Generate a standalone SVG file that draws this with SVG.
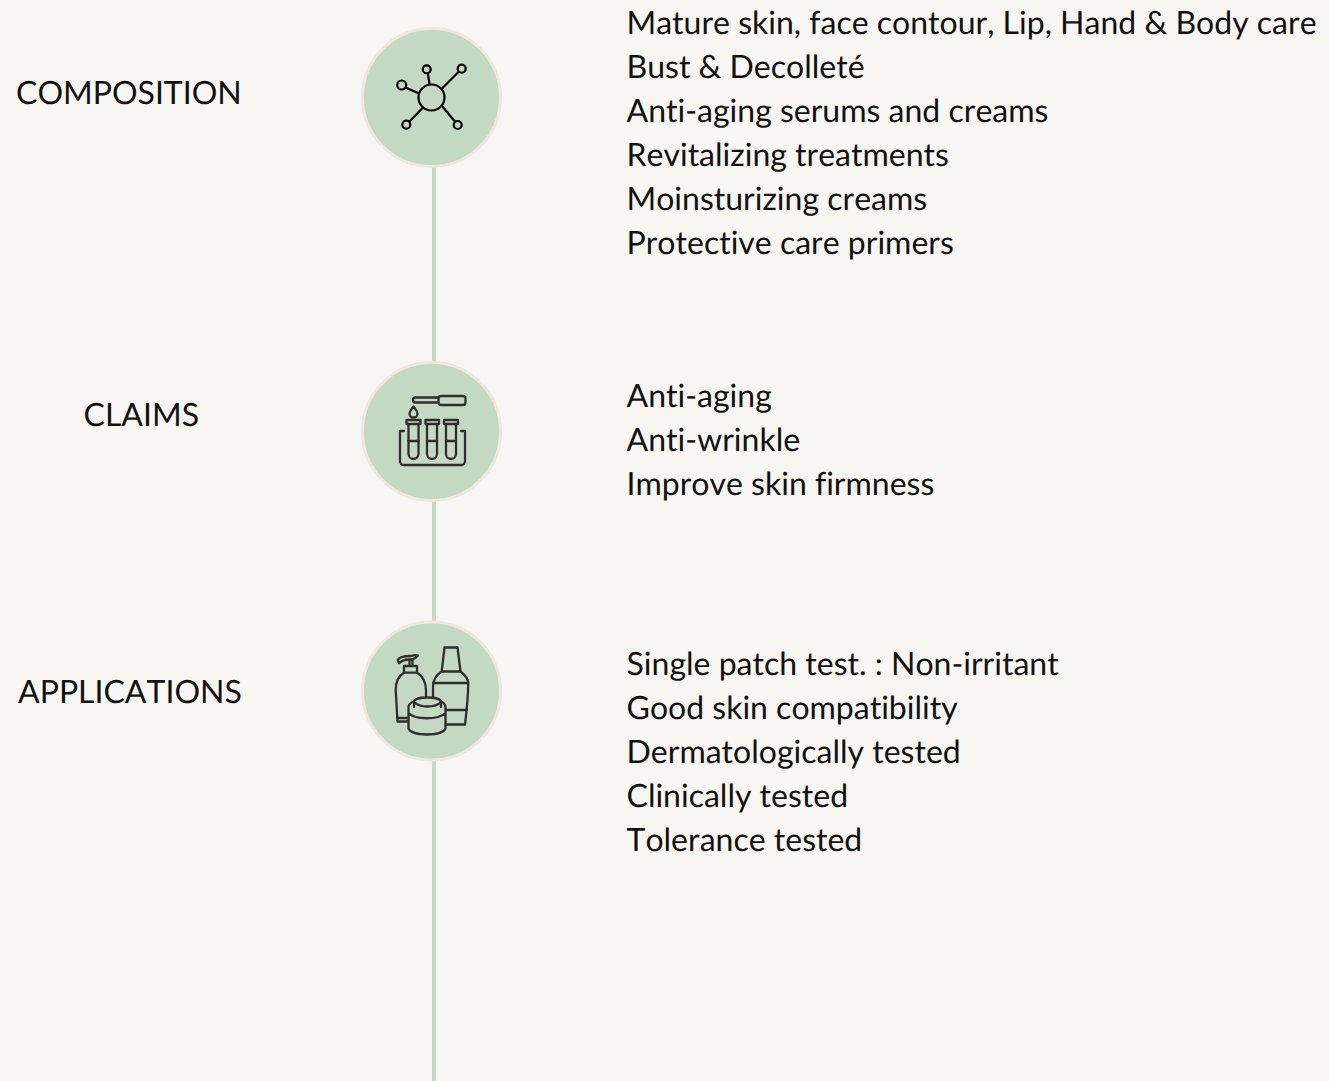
<svg xmlns="http://www.w3.org/2000/svg" width="1329" height="1081" viewBox="0 0 1329 1081">
<style>
text{font-family:Lato,"Liberation Sans",sans-serif;font-size:32px;fill:#111;font-variant-ligatures:none;font-kerning:none;text-rendering:geometricPrecision}
.c{fill:#c3d9c4;stroke:#efe6df;stroke-width:3}
.i{fill:none;stroke:#000;stroke-width:2.200;stroke-linecap:round;stroke-linejoin:round}
.j{fill:none;stroke:#2e2e2a;stroke-width:2.300;stroke-linecap:round;stroke-linejoin:round}
.l{stroke:#c3d9c4;stroke-width:4;fill:none}
</style>
<rect width="1329" height="1081" fill="#f8f6f2"/>
<g id="connectors">
<path class="l" d="M434 167V362"/>
<path class="l" d="M434 501V621"/>
<path class="l" d="M434 760V1081"/>
</g>
<g id="composition">
<text x="16" y="104">COMPOSITION</text>
<circle class="c" cx="431.500" cy="97.500" r="69"/>
<g class="i">
<circle cx="431.500" cy="97.500" r="13"/>
<circle cx="426.700" cy="69.300" r="4"/>
<circle cx="461.700" cy="68.700" r="4"/>
<circle cx="401.700" cy="85" r="4.500"/>
<circle cx="406.300" cy="124.700" r="4"/>
<circle cx="457.700" cy="125" r="4"/>
<path d="M428 74L429.500 84M458.500 72L442 88.500M405.500 87.500L419 93.500M409.500 121.500L422.500 108M454.500 121L442 106"/>
</g>
<g id="composition-text">
<text x="626.500" y="34">Mature skin, face contour, Lip, Hand &amp; Body care</text>
<text x="626.500" y="78">Bust &amp; Decolleté</text>
<text x="626.500" y="122">Anti-aging serums and creams</text>
<text x="626.500" y="166">Revitalizing treatments</text>
<text x="626.500" y="210">Moinsturizing creams</text>
<text x="626.500" y="254">Protective care primers</text>
</g>
</g>
<g id="claims">
<text x="83.500" y="426">CLAIMS</text>
<circle class="c" cx="431.500" cy="431.500" r="69"/>
<g class="j">
<path d="M438.500 397.500H415.500a2.500 2.500 0 0 0 0 5H438.500ZM441 396H463a2.500 2.500 0 0 1 2.500 2.500V402.500a2.500 2.500 0 0 1-2.500 2.500H441a2.500 2.500 0 0 1-2.500-2.500V398.500a2.500 2.500 0 0 1 2.500-2.500Z"/>
<path d="M413.500 406.500C411 410 409.500 411.500 409.500 413.500a3.800 3.800 0 0 0 8 0C417.500 411.500 416 410 413.500 406.500Z"/>
<path d="M406.500 420H420.500V424H406.500ZM425.500 420H439V424H425.500ZM444 420H458V424H444Z"/>
<path d="M408.500 424V454a5 5 0 0 0 10 0V424M427 424V454a5 5 0 0 0 10 0V424M446 424V454a5 5 0 0 0 10 0V424"/>
<path d="M408.500 441H418.500M427 441H437M446 441H456"/>
<path d="M404 431H400V461a4 4 0 0 0 4 4H461a4 4 0 0 0 4-4V431H461"/>
</g>
<g id="claims-text">
<text x="626.500" y="407">Anti-aging</text>
<text x="626.500" y="451">Anti-wrinkle</text>
<text x="626.500" y="495">Improve skin firmness</text>
</g>
</g>
<g id="applications">
<text x="18" y="703">APPLICATIONS</text>
<circle class="c" cx="431.500" cy="691" r="69"/>
<g class="j">
<path d="M444.500 647.500H457.500L460.500 671.500C465 675 468 678 468.300 683C468 700 466.500 712 465 724.500H446M444.500 647.500L441.700 671.500H460.500M441.700 671.500C436 675 433 680 433 687V698M433 683H468M446 710H467"/>
<path d="M397.500 721.500L395.700 690C395.700 680 400 675 404 672.700H417C422 675 426 682 426 690V697M397.500 721.500H408M397 718H408"/>
<path d="M404 672.700V666H417V672.700M409.500 666V660M412.500 666V660M397.700 660C399 657 406 656 411 656C414 655 416 655 418 655.500C416 658 414 659 412 659.500H408C405 659.500 403 660 399 663Z"/>
<path d="M408.500 707C408.500 704 411 702.500 414 701.500M445.500 707C445.500 704 443 702.500 441 701.500M408.500 707V728.500C412 736.500 442 736.500 445.500 728.500V707M408.500 713C415 720 438 720 445.500 713"/>
<path d="M414 707V702C414 696 441 696 441 702V707M414 702C420 708 435 708 441 702"/>
</g>
<g id="applications-text">
<text x="626.500" y="675">Single patch test. : Non-irritant</text>
<text x="626.500" y="719">Good skin compatibility</text>
<text x="626.500" y="763">Dermatologically tested</text>
<text x="626.500" y="807">Clinically tested</text>
<text x="626.500" y="851">Tolerance tested</text>
</g>
</g>
</svg>
